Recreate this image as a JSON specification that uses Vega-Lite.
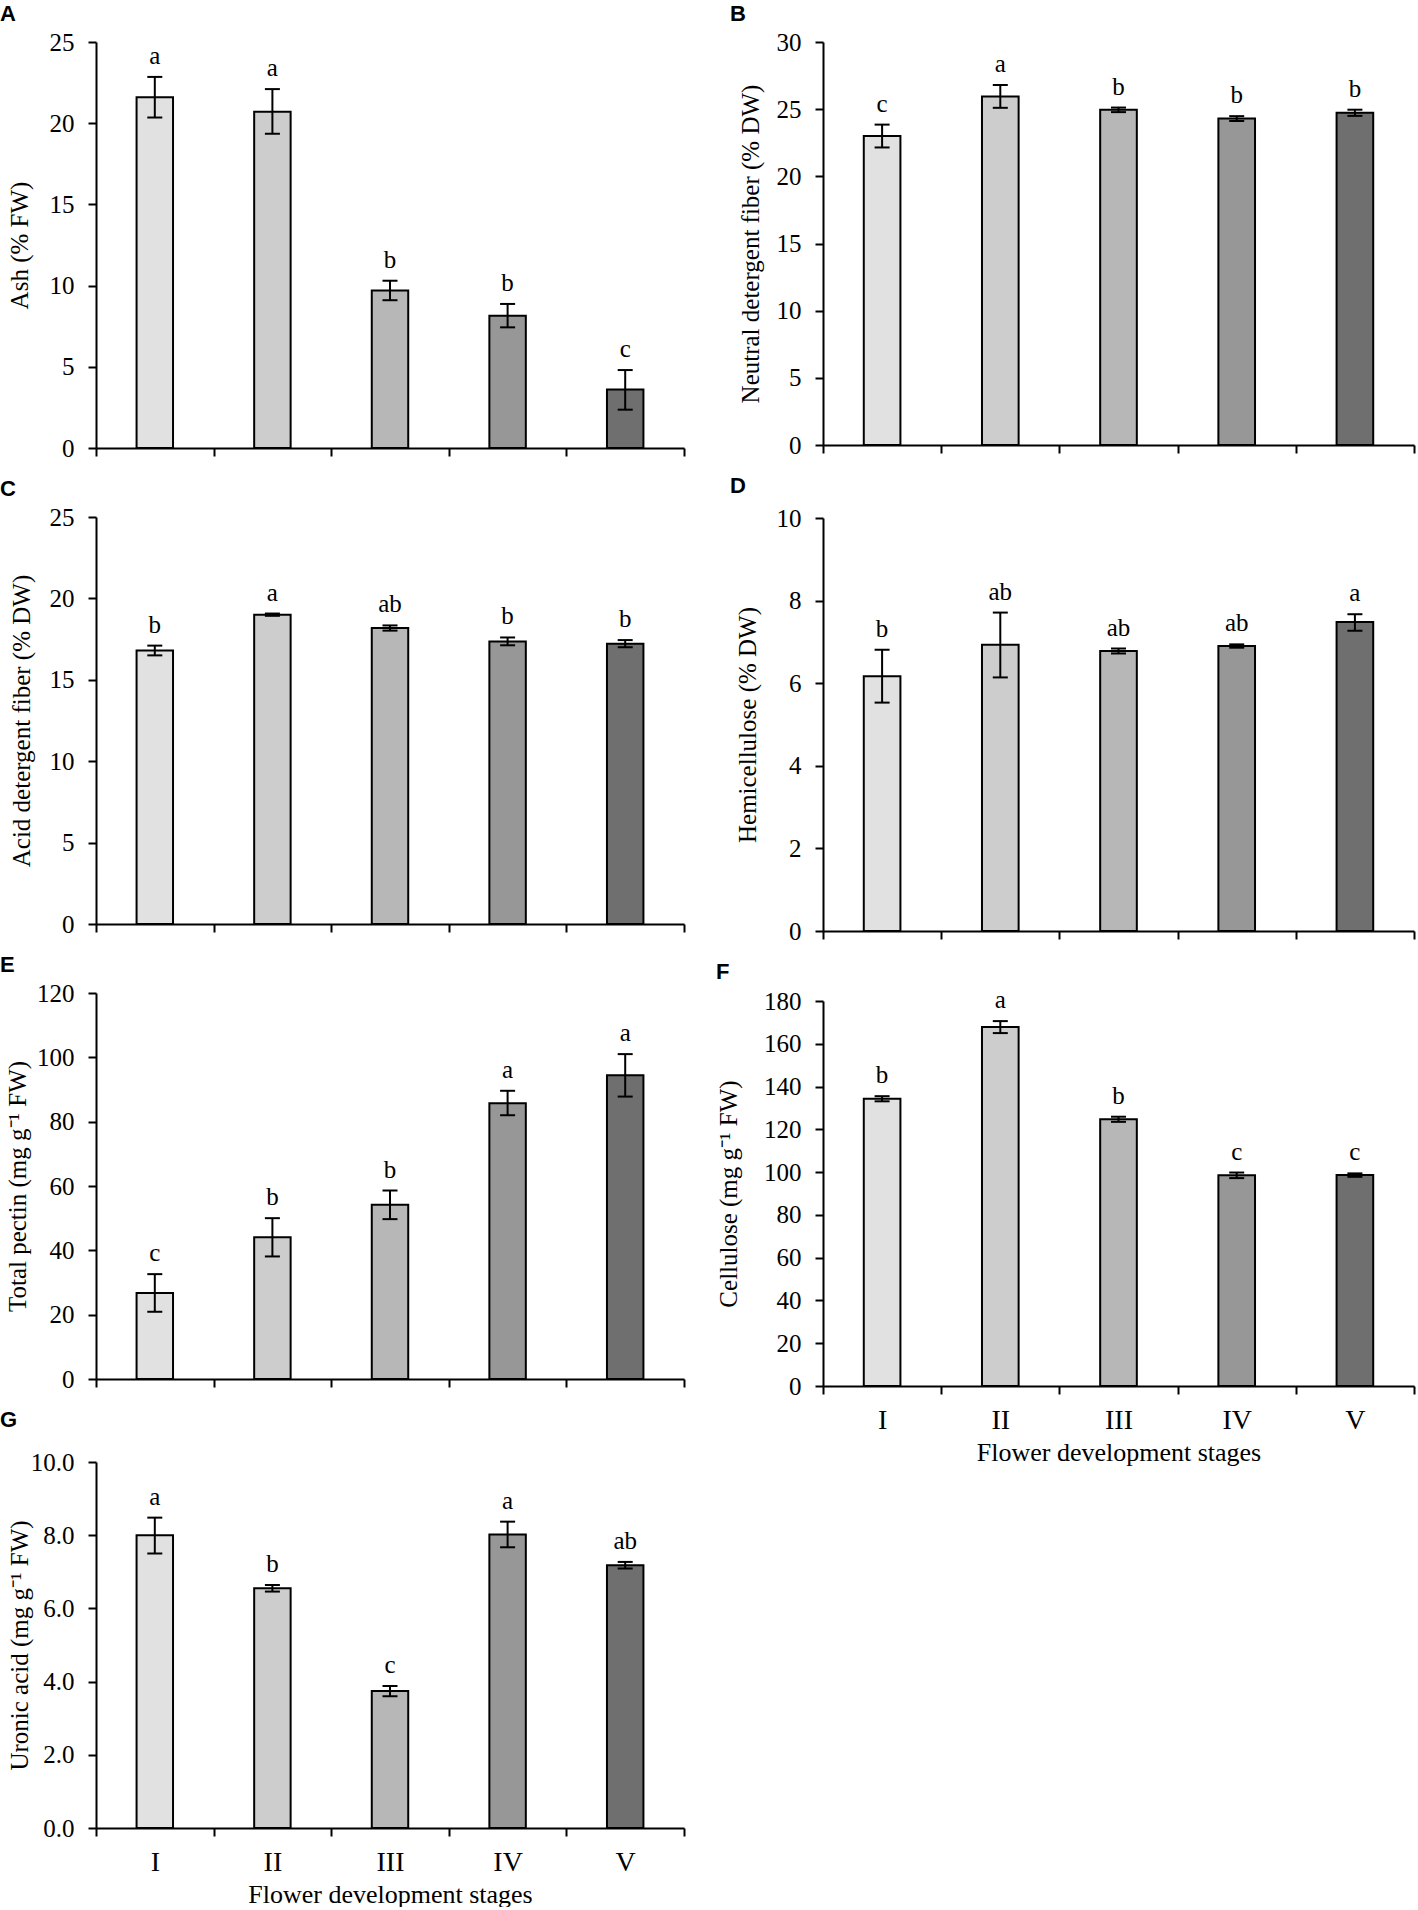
{
  "$schema": "https://vega.github.io/schema/vega-lite/v6.json",
  "padding": {"left": 0, "top": 3, "right": 2, "bottom": 0},
  "background": "white",
  "config": {
    "view": {"stroke": null},
    "font": "Liberation Serif",
    "axis": {
      "domainColor": "black",
      "domainWidth": 2,
      "tickColor": "black",
      "tickWidth": 2,
      "tickSize": 8,
      "grid": false,
      "labelFont": "Liberation Serif",
      "labelFontSize": 25,
      "labelColor": "black",
      "titleFont": "Liberation Serif",
      "titleFontSize": 25,
      "titleFontWeight": "normal",
      "titleColor": "black"
    },
    "axisY": {"labelPadding": 14, "titleBaseline": "middle", "labelFont": "Liberation Serif"},
    "axisX": {"labelPadding": 12, "labelAngle": 0, "titlePadding": 5, "labelFontSize": 28, "labelFont": "Liberation Serif"},
    "title": {"font": "Liberation Sans", "fontSize": 22, "fontWeight": "bold", "color": "black", "anchor": "start", "frame": "group"}
  },
  "datasets": {
    "A": [
      {"stage": "I", "mean": 21.6, "lo": 20.35, "hi": 22.85, "letter": "a"},
      {"stage": "II", "mean": 20.7, "lo": 19.35, "hi": 22.1, "letter": "a"},
      {"stage": "III", "mean": 9.7, "lo": 9.1, "hi": 10.3, "letter": "b"},
      {"stage": "IV", "mean": 8.15, "lo": 7.43, "hi": 8.87, "letter": "b"},
      {"stage": "V", "mean": 3.6, "lo": 2.36, "hi": 4.8, "letter": "c"}
    ],
    "B": [
      {"stage": "I", "mean": 23.0, "lo": 22.15, "hi": 23.85, "letter": "c"},
      {"stage": "II", "mean": 25.95, "lo": 25.1, "hi": 26.8, "letter": "a"},
      {"stage": "III", "mean": 24.95, "lo": 24.78, "hi": 25.12, "letter": "b"},
      {"stage": "IV", "mean": 24.3, "lo": 24.12, "hi": 24.48, "letter": "b"},
      {"stage": "V", "mean": 24.73, "lo": 24.5, "hi": 24.96, "letter": "b"}
    ],
    "C": [
      {"stage": "I", "mean": 16.8, "lo": 16.5, "hi": 17.1, "letter": "b"},
      {"stage": "II", "mean": 19.0, "lo": 18.93, "hi": 19.07, "letter": "a"},
      {"stage": "III", "mean": 18.18, "lo": 18.02, "hi": 18.34, "letter": "ab"},
      {"stage": "IV", "mean": 17.36, "lo": 17.12, "hi": 17.6, "letter": "b"},
      {"stage": "V", "mean": 17.22, "lo": 17.0, "hi": 17.44, "letter": "b"}
    ],
    "D": [
      {"stage": "I", "mean": 6.17, "lo": 5.53, "hi": 6.81, "letter": "b"},
      {"stage": "II", "mean": 6.93, "lo": 6.14, "hi": 7.71, "letter": "ab"},
      {"stage": "III", "mean": 6.78, "lo": 6.72, "hi": 6.84, "letter": "ab"},
      {"stage": "IV", "mean": 6.9, "lo": 6.86, "hi": 6.94, "letter": "ab"},
      {"stage": "V", "mean": 7.48, "lo": 7.27, "hi": 7.67, "letter": "a"}
    ],
    "E": [
      {"stage": "I", "mean": 26.7, "lo": 20.9, "hi": 32.6, "letter": "c"},
      {"stage": "II", "mean": 44.1, "lo": 38.1, "hi": 50.0, "letter": "b"},
      {"stage": "III", "mean": 54.2, "lo": 49.7, "hi": 58.6, "letter": "b"},
      {"stage": "IV", "mean": 85.7, "lo": 82.0, "hi": 89.6, "letter": "a"},
      {"stage": "V", "mean": 94.4, "lo": 87.8, "hi": 101.0, "letter": "a"}
    ],
    "F": [
      {"stage": "I", "mean": 134.3, "lo": 133.1, "hi": 135.5, "letter": "b"},
      {"stage": "II", "mean": 167.8, "lo": 165.0, "hi": 170.6, "letter": "a"},
      {"stage": "III", "mean": 124.7, "lo": 123.5, "hi": 125.9, "letter": "b"},
      {"stage": "IV", "mean": 98.5, "lo": 97.2, "hi": 99.8, "letter": "c"},
      {"stage": "V", "mean": 98.6, "lo": 97.8, "hi": 99.4, "letter": "c"}
    ],
    "G": [
      {"stage": "I", "mean": 8.0, "lo": 7.5, "hi": 8.48, "letter": "a"},
      {"stage": "II", "mean": 6.55, "lo": 6.46, "hi": 6.64, "letter": "b"},
      {"stage": "III", "mean": 3.74, "lo": 3.6, "hi": 3.88, "letter": "c"},
      {"stage": "IV", "mean": 8.02, "lo": 7.67, "hi": 8.37, "letter": "a"},
      {"stage": "V", "mean": 7.18, "lo": 7.09, "hi": 7.27, "letter": "ab"}
    ]
  },
  "hconcat": [
    {
      "spacing": 17,
      "vconcat": [
        {
          "title": {"text": "A", "dx": -96, "offset": 4},
          "data": {"name": "A"},
          "width": 588,
          "height": 406,
          "encoding": {
            "x": {"field": "stage", "type": "nominal", "sort": null, "scale": {"paddingInner": 0, "paddingOuter": 0}, "axis": {"labels": false, "title": null, "tickBand": "extent"}}
          },
          "layer": [
            {
              "mark": {"type": "bar", "width": {"band": 0.31}, "stroke": "black", "strokeWidth": 2},
              "encoding": {
                "y": {"field": "mean", "type": "quantitative", "scale": {"domain": [0, 25], "nice": false}, "axis": {"values": [0, 5, 10, 15, 20, 25], "title": "Ash (% FW)", "titleX": -77}},
                "color": {"field": "stage", "type": "nominal", "scale": {"domain": ["I", "II", "III", "IV", "V"], "range": ["#e1e1e1", "#cdcdcd", "#b7b7b7", "#979797", "#6f6f6f"]}, "legend": null}
              }
            },
            {"mark": {"type": "rule", "color": "black", "strokeWidth": 2}, "encoding": {"y": {"field": "lo", "type": "quantitative"}, "y2": {"field": "hi"}}},
            {"mark": {"type": "tick", "color": "black", "size": 15, "thickness": 2, "opacity": 1}, "encoding": {"y": {"field": "lo", "type": "quantitative"}}},
            {"mark": {"type": "tick", "color": "black", "size": 15, "thickness": 2, "opacity": 1}, "encoding": {"y": {"field": "hi", "type": "quantitative"}}},
            {"mark": {"type": "text", "baseline": "alphabetic", "dy": -13, "fontSize": 25, "font": "Liberation Serif", "color": "black"}, "encoding": {"y": {"field": "hi", "type": "quantitative"}, "text": {"field": "letter"}}}
          ]
        },
        {
          "title": {"text": "C", "dx": -96, "offset": 4},
          "data": {"name": "C"},
          "width": 588,
          "height": 407,
          "encoding": {
            "x": {"field": "stage", "type": "nominal", "sort": null, "scale": {"paddingInner": 0, "paddingOuter": 0}, "axis": {"labels": false, "title": null, "tickBand": "extent"}}
          },
          "layer": [
            {
              "mark": {"type": "bar", "width": {"band": 0.31}, "stroke": "black", "strokeWidth": 2},
              "encoding": {
                "y": {"field": "mean", "type": "quantitative", "scale": {"domain": [0, 25], "nice": false}, "axis": {"values": [0, 5, 10, 15, 20, 25], "title": "Acid detergent fiber (% DW)", "titleX": -75}},
                "color": {"field": "stage", "type": "nominal", "scale": {"domain": ["I", "II", "III", "IV", "V"], "range": ["#e1e1e1", "#cdcdcd", "#b7b7b7", "#979797", "#6f6f6f"]}, "legend": null}
              }
            },
            {"mark": {"type": "rule", "color": "black", "strokeWidth": 2}, "encoding": {"y": {"field": "lo", "type": "quantitative"}, "y2": {"field": "hi"}}},
            {"mark": {"type": "tick", "color": "black", "size": 15, "thickness": 2, "opacity": 1}, "encoding": {"y": {"field": "lo", "type": "quantitative"}}},
            {"mark": {"type": "tick", "color": "black", "size": 15, "thickness": 2, "opacity": 1}, "encoding": {"y": {"field": "hi", "type": "quantitative"}}},
            {"mark": {"type": "text", "baseline": "alphabetic", "dy": -13, "fontSize": 25, "font": "Liberation Serif", "color": "black"}, "encoding": {"y": {"field": "hi", "type": "quantitative"}, "text": {"field": "letter"}}}
          ]
        },
        {
          "title": {"text": "E", "dx": -96, "offset": 4},
          "data": {"name": "E"},
          "width": 588,
          "height": 386,
          "encoding": {
            "x": {"field": "stage", "type": "nominal", "sort": null, "scale": {"paddingInner": 0, "paddingOuter": 0}, "axis": {"labels": false, "title": null, "tickBand": "extent"}}
          },
          "layer": [
            {
              "mark": {"type": "bar", "width": {"band": 0.31}, "stroke": "black", "strokeWidth": 2},
              "encoding": {
                "y": {"field": "mean", "type": "quantitative", "scale": {"domain": [0, 120], "nice": false}, "axis": {"values": [0, 20, 40, 60, 80, 100, 120], "title": "Total pectin (mg g⁻¹ FW)", "titleX": -79}},
                "color": {"field": "stage", "type": "nominal", "scale": {"domain": ["I", "II", "III", "IV", "V"], "range": ["#e1e1e1", "#cdcdcd", "#b7b7b7", "#979797", "#6f6f6f"]}, "legend": null}
              }
            },
            {"mark": {"type": "rule", "color": "black", "strokeWidth": 2}, "encoding": {"y": {"field": "lo", "type": "quantitative"}, "y2": {"field": "hi"}}},
            {"mark": {"type": "tick", "color": "black", "size": 15, "thickness": 2, "opacity": 1}, "encoding": {"y": {"field": "lo", "type": "quantitative"}}},
            {"mark": {"type": "tick", "color": "black", "size": 15, "thickness": 2, "opacity": 1}, "encoding": {"y": {"field": "hi", "type": "quantitative"}}},
            {"mark": {"type": "text", "baseline": "alphabetic", "dy": -13, "fontSize": 25, "font": "Liberation Serif", "color": "black"}, "encoding": {"y": {"field": "hi", "type": "quantitative"}, "text": {"field": "letter"}}}
          ]
        },
        {
          "title": {"text": "G", "dx": -96, "offset": 18},
          "data": {"name": "G"},
          "width": 588,
          "height": 366,
          "encoding": {
            "x": {"field": "stage", "type": "nominal", "sort": null, "scale": {"paddingInner": 0, "paddingOuter": 0}, "axis": {"title": "Flower development stages", "tickBand": "extent", "titleFontSize": 26}}
          },
          "layer": [
            {
              "mark": {"type": "bar", "width": {"band": 0.31}, "stroke": "black", "strokeWidth": 2},
              "encoding": {
                "y": {"field": "mean", "type": "quantitative", "scale": {"domain": [0, 10], "nice": false}, "axis": {"values": [0, 2, 4, 6, 8, 10], "format": ".1f", "title": "Uronic acid (mg g⁻¹ FW)", "titleX": -77}},
                "color": {"field": "stage", "type": "nominal", "scale": {"domain": ["I", "II", "III", "IV", "V"], "range": ["#e1e1e1", "#cdcdcd", "#b7b7b7", "#979797", "#6f6f6f"]}, "legend": null}
              }
            },
            {"mark": {"type": "rule", "color": "black", "strokeWidth": 2}, "encoding": {"y": {"field": "lo", "type": "quantitative"}, "y2": {"field": "hi"}}},
            {"mark": {"type": "tick", "color": "black", "size": 15, "thickness": 2, "opacity": 1}, "encoding": {"y": {"field": "lo", "type": "quantitative"}}},
            {"mark": {"type": "tick", "color": "black", "size": 15, "thickness": 2, "opacity": 1}, "encoding": {"y": {"field": "hi", "type": "quantitative"}}},
            {"mark": {"type": "text", "baseline": "alphabetic", "dy": -13, "fontSize": 25, "font": "Liberation Serif", "color": "black"}, "encoding": {"y": {"field": "hi", "type": "quantitative"}, "text": {"field": "letter"}}}
          ]
        }
      ]
    },
    {
      "spacing": 17,
      "vconcat": [
        {
          "title": {"text": "B", "dx": -93, "offset": 4},
          "data": {"name": "B"},
          "width": 591,
          "height": 403,
          "encoding": {
            "x": {"field": "stage", "type": "nominal", "sort": null, "scale": {"paddingInner": 0, "paddingOuter": 0}, "axis": {"labels": false, "title": null, "tickBand": "extent"}}
          },
          "layer": [
            {
              "mark": {"type": "bar", "width": {"band": 0.31}, "stroke": "black", "strokeWidth": 2},
              "encoding": {
                "y": {"field": "mean", "type": "quantitative", "scale": {"domain": [0, 30], "nice": false}, "axis": {"values": [0, 5, 10, 15, 20, 25, 30], "title": "Neutral detergent fiber (% DW)", "titleX": -73}},
                "color": {"field": "stage", "type": "nominal", "scale": {"domain": ["I", "II", "III", "IV", "V"], "range": ["#e1e1e1", "#cdcdcd", "#b7b7b7", "#979797", "#6f6f6f"]}, "legend": null}
              }
            },
            {"mark": {"type": "rule", "color": "black", "strokeWidth": 2}, "encoding": {"y": {"field": "lo", "type": "quantitative"}, "y2": {"field": "hi"}}},
            {"mark": {"type": "tick", "color": "black", "size": 15, "thickness": 2, "opacity": 1}, "encoding": {"y": {"field": "lo", "type": "quantitative"}}},
            {"mark": {"type": "tick", "color": "black", "size": 15, "thickness": 2, "opacity": 1}, "encoding": {"y": {"field": "hi", "type": "quantitative"}}},
            {"mark": {"type": "text", "baseline": "alphabetic", "dy": -13, "fontSize": 25, "font": "Liberation Serif", "color": "black"}, "encoding": {"y": {"field": "hi", "type": "quantitative"}, "text": {"field": "letter"}}}
          ]
        },
        {
          "title": {"text": "D", "dx": -93, "offset": 8},
          "data": {"name": "D"},
          "width": 591,
          "height": 413,
          "encoding": {
            "x": {"field": "stage", "type": "nominal", "sort": null, "scale": {"paddingInner": 0, "paddingOuter": 0}, "axis": {"labels": false, "title": null, "tickBand": "extent"}}
          },
          "layer": [
            {
              "mark": {"type": "bar", "width": {"band": 0.31}, "stroke": "black", "strokeWidth": 2},
              "encoding": {
                "y": {"field": "mean", "type": "quantitative", "scale": {"domain": [0, 10], "nice": false}, "axis": {"values": [0, 2, 4, 6, 8, 10], "title": "Hemicellulose (% DW)", "titleX": -76}},
                "color": {"field": "stage", "type": "nominal", "scale": {"domain": ["I", "II", "III", "IV", "V"], "range": ["#e1e1e1", "#cdcdcd", "#b7b7b7", "#979797", "#6f6f6f"]}, "legend": null}
              }
            },
            {"mark": {"type": "rule", "color": "black", "strokeWidth": 2}, "encoding": {"y": {"field": "lo", "type": "quantitative"}, "y2": {"field": "hi"}}},
            {"mark": {"type": "tick", "color": "black", "size": 15, "thickness": 2, "opacity": 1}, "encoding": {"y": {"field": "lo", "type": "quantitative"}}},
            {"mark": {"type": "tick", "color": "black", "size": 15, "thickness": 2, "opacity": 1}, "encoding": {"y": {"field": "hi", "type": "quantitative"}}},
            {"mark": {"type": "text", "baseline": "alphabetic", "dy": -13, "fontSize": 25, "font": "Liberation Serif", "color": "black"}, "encoding": {"y": {"field": "hi", "type": "quantitative"}, "text": {"field": "letter"}}}
          ]
        },
        {
          "title": {"text": "F", "dx": -107, "offset": 4},
          "data": {"name": "F"},
          "width": 591,
          "height": 385,
          "encoding": {
            "x": {"field": "stage", "type": "nominal", "sort": null, "scale": {"paddingInner": 0, "paddingOuter": 0}, "axis": {"title": "Flower development stages", "tickBand": "extent", "titleFontSize": 26}}
          },
          "layer": [
            {
              "mark": {"type": "bar", "width": {"band": 0.31}, "stroke": "black", "strokeWidth": 2},
              "encoding": {
                "y": {"field": "mean", "type": "quantitative", "scale": {"domain": [0, 180], "nice": false}, "axis": {"values": [0, 20, 40, 60, 80, 100, 120, 140, 160, 180], "title": "Cellulose (mg g⁻¹ FW)", "titleX": -95}},
                "color": {"field": "stage", "type": "nominal", "scale": {"domain": ["I", "II", "III", "IV", "V"], "range": ["#e1e1e1", "#cdcdcd", "#b7b7b7", "#979797", "#6f6f6f"]}, "legend": null}
              }
            },
            {"mark": {"type": "rule", "color": "black", "strokeWidth": 2}, "encoding": {"y": {"field": "lo", "type": "quantitative"}, "y2": {"field": "hi"}}},
            {"mark": {"type": "tick", "color": "black", "size": 15, "thickness": 2, "opacity": 1}, "encoding": {"y": {"field": "lo", "type": "quantitative"}}},
            {"mark": {"type": "tick", "color": "black", "size": 15, "thickness": 2, "opacity": 1}, "encoding": {"y": {"field": "hi", "type": "quantitative"}}},
            {"mark": {"type": "text", "baseline": "alphabetic", "dy": -13, "fontSize": 25, "font": "Liberation Serif", "color": "black"}, "encoding": {"y": {"field": "hi", "type": "quantitative"}, "text": {"field": "letter"}}}
          ]
        }
      ]
    }
  ],
  "spacing": 31
}
